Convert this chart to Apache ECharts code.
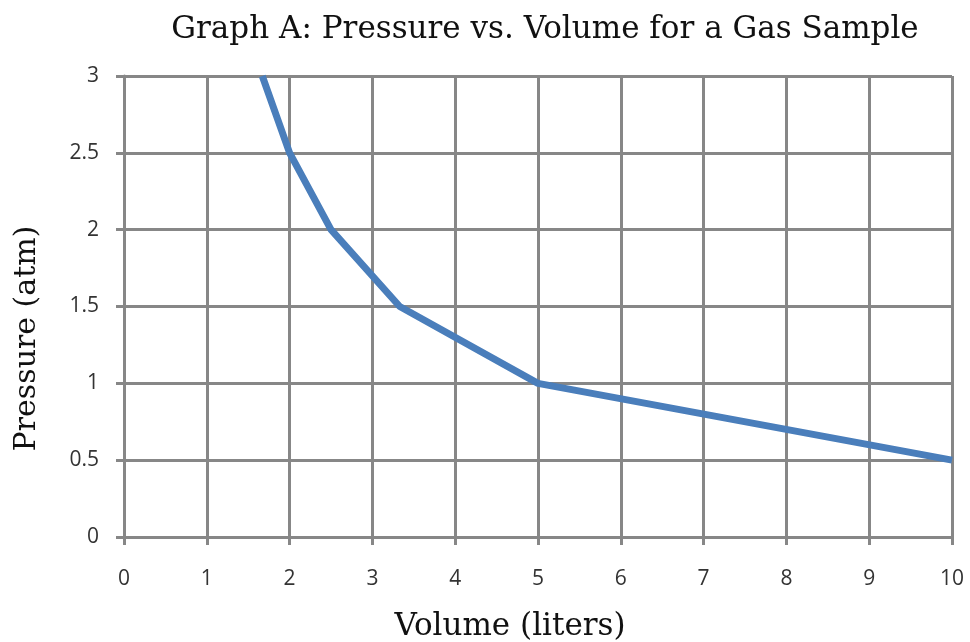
<!DOCTYPE html>
<html>
<head>
<meta charset="utf-8">
<script src="https://cdn.jsdelivr.net/npm/echarts@6/dist/echarts.min.js"></script>
<style>
    html, body { margin: 0; padding: 0; background: #fff; }
    #chart_gas { width: 970px; height: 642px; }
</style>
</head>
<body>
<div id="chart_gas"></div>
<script>
// values
var volumeData = [1.67, 2, 2.5, 3.33, 5, 10];
var pressureData = [3, 2.5, 2, 1.5, 1, 0.5];
var xTicks = [0, 1, 2, 3, 4, 5, 6, 7, 8, 9, 10];
var yTicks = [0, 0.5, 1, 1.5, 2, 2.5, 3];

var chart_gas = null;

function initChart() {
    chart_gas = echarts.init(document.getElementById('chart_gas'));

    var seriesData = [];
    for (var i = 0; i < volumeData.length; i++) {
        seriesData.push([volumeData[i], pressureData[i]]);
    }

    var gridColor = '#878787';
    var labelStyle = {
        color: '#333333',
        fontFamily: 'Open Sans',
        fontSize: 21
    };

    var option = {
        animation: false,
        backgroundColor: '#ffffff',
        title: {
            text: 'Graph A: Pressure vs. Volume for a Gas Sample',
            left: 540,
            top: 9,
            textAlign: 'center',
            textStyle: {
                fontFamily: 'DejaVu Serif',
                fontWeight: 'normal',
                fontSize: 31,
                color: '#111111'
            }
        },
        grid: {
            left: 124,
            right: 18,
            top: 76,
            bottom: 105,
            outerBoundsMode: 'none',
            containLabel: false
        },
        xAxis: {
            type: 'value',
            min: xTicks[0],
            max: xTicks[xTicks.length - 1],
            interval: 1,
            name: 'Volume (liters)',
            nameLocation: 'middle',
            nameGap: 74,
            nameTextStyle: {
                fontFamily: 'DejaVu Serif',
                fontSize: 31,
                color: '#111111',
                padding: [0, 56, 0, 0]
            },
            axisLine: { lineStyle: { color: gridColor, width: 3 } },
            axisTick: { show: true, length: 8, lineStyle: { color: gridColor, width: 3 } },
            axisLabel: Object.assign({ margin: 32 }, labelStyle),
            splitLine: { show: true, lineStyle: { color: gridColor, width: 3 } }
        },
        yAxis: {
            type: 'value',
            min: yTicks[0],
            max: yTicks[yTicks.length - 1],
            interval: 0.5,
            name: 'Pressure (atm)',
            nameLocation: 'middle',
            nameGap: 82,
            nameRotate: 90,
            nameTextStyle: {
                fontFamily: 'DejaVu Serif',
                fontSize: 30,
                color: '#111111',
                padding: [0, 64, 0, 0]
            },
            axisLine: { show: true, lineStyle: { color: gridColor, width: 3 } },
            axisTick: { show: true, length: 8, lineStyle: { color: gridColor, width: 3 } },
            axisLabel: Object.assign({ margin: 25, padding: [8, 0, 0, 0] }, labelStyle),
            splitLine: { show: true, lineStyle: { color: gridColor, width: 3 } }
        },
        series: [
            {
                name: 'Pressure',
                type: 'line',
                showSymbol: false,
                data: seriesData,
                lineStyle: { color: '#4a7ebb', width: 7 },
                itemStyle: { color: '#4a7ebb' }
            }
        ]
    };

    chart_gas.setOption(option);
}

initChart();
</script>
</body>
</html>
